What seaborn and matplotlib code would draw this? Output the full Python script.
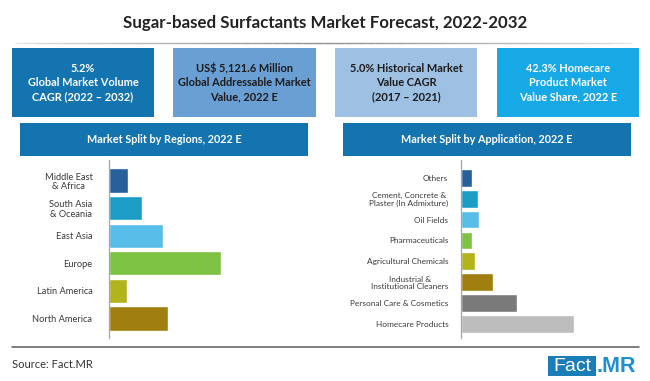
import matplotlib
matplotlib.use("Agg")
import matplotlib.pyplot as plt
import seaborn as sns
import pandas as pd
from matplotlib.patches import Rectangle
from matplotlib.lines import Line2D

# ---------------- data ----------------
regions = ["Middle East\n& Africa", "South Asia\n& Oceania", "East Asia",
           "Europe", "Latin America", "North America"]
region_share = [6.5, 11.3, 18.2, 37.8, 6.3, 19.9]

applications = ["Others", "Cement, Concrete &\nPlaster (In Admixture)", "Oil Fields",
                "Pharmaceuticals", "Agricultural Chemicals",
                "Industrial &\nInstitutional Cleaners", "Personal Care & Cosmetics",
                "Homecare Products"]
application_share = [4.1, 6.3, 6.8, 4.1, 5.3, 11.9, 20.8, 42.3]

title = "Sugar-based Surfactants Market Forecast, 2022-2032"
kpi_texts = ["5.2%\nGlobal Market Volume\nCAGR (2022 – 2032)",
             "US$ 5,121.6 Million\nGlobal Addressable Market\nValue, 2022 E",
             "5.0% Historical Market\nValue CAGR\n(2017 – 2021)",
             "42.3% Homecare\nProduct Market\nValue Share, 2022 E"]
section_titles = ["Market Split by Regions, 2022 E", "Market Split by Application, 2022 E"]
source_text = "Source: Fact.MR"

# ---------------- styles ----------------
region_colors = ["#27609A", "#1C9DC6", "#58BDE8", "#7DC243", "#B3B31E", "#A07E10"]
app_colors = ["#27609A", "#1C9DC6", "#58BDE8", "#7DC243", "#B3B31E", "#A07E10",
              "#7A7A7A", "#BDBDBD"]
kpi_colors = ["#1374B0", "#6A9FD4", "#9DC0E3", "#16A9E6"]
kpi_text_colors = ["white", "#1b1b1b", "#1b1b1b", "white"]
header_color = "#1374B0"

sns.set_theme(style="white")
plt.rcParams["font.family"] = ["Lato", "Liberation Sans", "DejaVu Sans"]
LATO = ["Lato", "Liberation Sans", "DejaVu Sans"]

W, H = 650, 381
fig = plt.figure(figsize=(6.5, 3.81), dpi=100)
fig.patch.set_facecolor("white")
renderer = fig.canvas.get_renderer()


def fx(x):
    return x / W


def fy(y):
    return 1 - y / H


def fit_size(text, target_px, weight="normal", ref=10):
    tt = fig.text(0, 0, text, fontsize=ref, family=LATO, fontweight=weight)
    w = tt.get_window_extent(renderer).width
    tt.remove()
    return ref * target_px / w


def rect(x0, y0, x1, y1, color):
    fig.add_artist(Rectangle((fx(x0), fy(y1)), fx(x1) - fx(x0), fy(y0) - fy(y1),
                             transform=fig.transFigure, facecolor=color,
                             edgecolor="none"))


# title
fig.text(fx(325), fy(23), title, ha="center", va="center",
         fontsize=fit_size(title, 404, "bold"), fontweight="bold", color="#222222")

# gradient separator line
n = 60
x0, x1 = 15, 632
for i in range(n):
    a = x0 + (x1 - x0) * i / n
    b = x0 + (x1 - x0) * (i + 1) / n
    mid = (i + 0.5) / n
    alpha = 0.15 + 0.7 * (1 - abs(mid - 0.5) * 2) ** 0.7
    fig.add_artist(Line2D([fx(a), fx(b)], [fy(43), fy(43)], transform=fig.transFigure,
                          color="#7a7a7a", lw=1, alpha=alpha, solid_capstyle="butt"))

# KPI boxes
box_size = fit_size("Global Addressable Market", 134, "bold")
box_x = [(12, 154), (173, 316), (335, 477), (497, 639)]
for (bx0, bx1), txt, c, tc in zip(box_x, kpi_texts, kpi_colors, kpi_text_colors):
    rect(bx0, 48, bx1, 117, c)
    fig.text(fx((bx0 + bx1) / 2), fy(82.5), txt, ha="center", va="center",
             fontsize=box_size, fontweight="bold", color=tc, linespacing=1.35)

# section headers
head_size = fit_size(section_titles[0], 155, "bold")
head_x = [(20, 308), (343, 631)]
for (hx0, hx1), txt in zip(head_x, section_titles):
    rect(hx0, 123, hx1, 156, header_color)
    fig.text(fx((hx0 + hx1) / 2), fy(139.5), txt, ha="center", va="center",
             fontsize=head_size, fontweight="bold", color="white")


def bar_panel(left_px, scale_px, width_px, cats, vals, colors, top_lim, bot_lim,
              bar_w, pad_px, label_size):
    ax = fig.add_axes([fx(left_px), fy(338), width_px / W, 178 / H])
    df = pd.DataFrame({"cat": cats, "val": vals})
    sns.barplot(data=df, x="val", y="cat", hue="cat", palette=colors, legend=False,
                orient="h", width=bar_w, saturation=1, ax=ax)
    ax.set_xlim(0, width_px / scale_px)
    ax.set_ylim(bot_lim, top_lim)
    ax.set_xlabel("")
    ax.set_ylabel("")
    ax.set_xticks([])
    for s in ["top", "right", "bottom"]:
        ax.spines[s].set_visible(False)
    ax.spines["left"].set_color("#A6A6A6")
    ax.spines["left"].set_linewidth(0.9)
    ax.tick_params(axis="y", length=0, pad=pad_px * 0.72, labelsize=label_size,
                   labelcolor="#3a3a3a")
    for lab in ax.get_yticklabels():
        lab.set_multialignment("center")
        lab.set_linespacing(1.1)
    ax.patch.set_alpha(0)
    return ax


bar_panel(108.5, 2.976, 210, regions, region_share, region_colors,
          -0.743, 5.707, 0.88, 16, fit_size("North America", 60))
bar_panel(461.3, 2.664, 170, applications, application_share, app_colors,
          -0.853, 7.68, 0.85, 13, fit_size("Personal Care & Cosmetics", 98))

# footer
fig.add_artist(Line2D([fx(12), fx(639)], [fy(347), fy(347)], transform=fig.transFigure,
                      color="#5a5a5a", lw=1.1))
fig.text(fx(12), fy(365), source_text, ha="left", va="center",
         fontsize=fit_size(source_text, 80), color="#333333")
rect(548, 356, 596, 376, "#1A7DB8")
fig.text(fx(572), fy(366.5), "Fact", ha="center", va="center", fontsize=14,
         color="white", family=["Liberation Sans"])
fig.text(fx(597), fy(366.5), ".MR", ha="left", va="center", fontsize=15.5,
         fontweight="bold", color="#1E90D0", family=["Liberation Sans"])

fig.savefig("out.png", dpi=100, facecolor="white")
